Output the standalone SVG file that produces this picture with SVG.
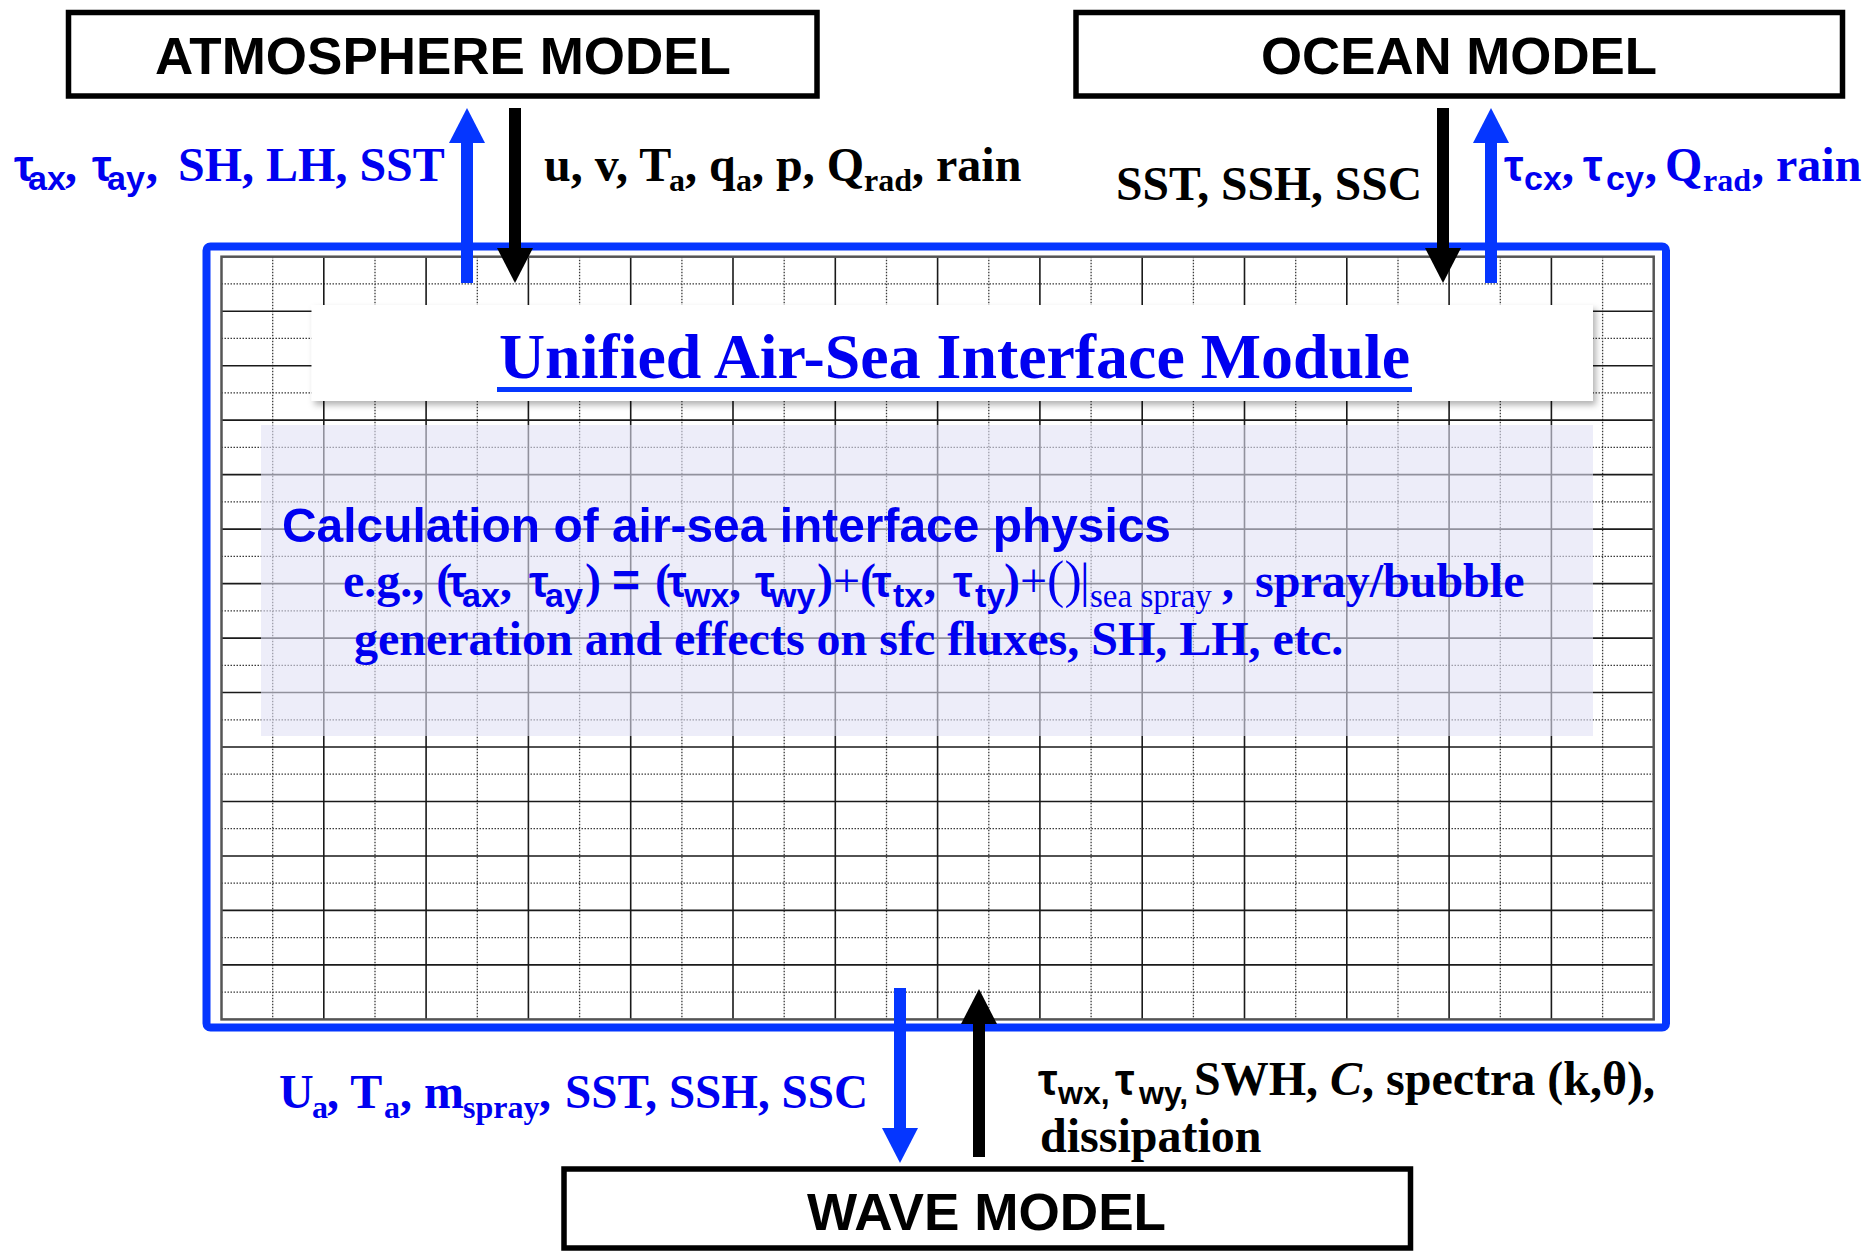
<svg xmlns="http://www.w3.org/2000/svg" width="1864" height="1252" viewBox="0 0 1864 1252">
<defs>
<style>
.box{fill:#fff;stroke:#000;stroke-width:5.5}
.boxtxt{font-family:"Liberation Sans",Arial,sans-serif;font-weight:bold;font-size:52px;fill:#000}
.serif{font-family:"Liberation Serif","Times New Roman",serif;font-weight:bold;font-size:48px}
.blue{fill:#0000f0}
.blk{fill:#000}
.tau{font-family:"Liberation Sans",Arial,sans-serif;font-weight:bold;font-size:44px}
.sub{font-family:"Liberation Sans",Arial,sans-serif;font-weight:bold;font-size:34px}
.sub2{font-family:"Liberation Sans",Arial,sans-serif;font-weight:bold;font-size:32px}
.ssub{font-size:32px}
.reg{font-weight:normal}
.gs{stroke:#1a1a1a;stroke-width:1.6;fill:none}
.gd{stroke:#3a3a3a;stroke-width:1.3;stroke-dasharray:1.5 1.5;fill:none}
.ab{stroke:#0536ff;stroke-width:12;fill:none}
.ak{stroke:#000;stroke-width:12;fill:none}
</style>
<marker id="hb" viewBox="0 0 35 36" markerUnits="userSpaceOnUse" markerWidth="35" markerHeight="36" refX="2" refY="18" orient="auto"><path d="M0,0 L35,18 L0,36 Z" fill="#0536ff"/></marker>
<marker id="hk" viewBox="0 0 35 36" markerUnits="userSpaceOnUse" markerWidth="35" markerHeight="36" refX="2" refY="18" orient="auto"><path d="M0,0 L35,18 L0,36 Z" fill="#000"/></marker>
<filter id="sh" x="-5%" y="-20%" width="110%" height="150%"><feDropShadow dx="3" dy="4" stdDeviation="3" flood-color="#000" flood-opacity="0.3"/></filter>
</defs>
<rect width="1864" height="1252" fill="#fff"/>

<g id="interface-module">
<rect x="206.5" y="246.5" width="1459.5" height="781" rx="4" fill="#fff" stroke="#0536ff" stroke-width="8"/>
<path class="gd" d="M272.7,256.7V1019.4M375,256.7V1019.4M477.3,256.7V1019.4M579.6,256.7V1019.4M681.9,256.7V1019.4M784.2,256.7V1019.4M886.5,256.7V1019.4M988.8,256.7V1019.4M1091.1,256.7V1019.4M1193.4,256.7V1019.4M1295.7,256.7V1019.4M1398,256.7V1019.4M1500.3,256.7V1019.4M1602.6,256.7V1019.4
M221.5,283.9H1653.7M221.5,338.4H1653.7M221.5,392.9H1653.7M221.5,447.4H1653.7M221.5,501.9H1653.7M221.5,556.3H1653.7M221.5,610.8H1653.7M221.5,665.3H1653.7M221.5,719.8H1653.7M221.5,774.2H1653.7M221.5,828.7H1653.7M221.5,883.2H1653.7M221.5,937.7H1653.7M221.5,992.2H1653.7"/>
<path class="gs" d="M323.8,256.7V1019.4M426.1,256.7V1019.4M528.4,256.7V1019.4M630.7,256.7V1019.4M733,256.7V1019.4M835.3,256.7V1019.4M937.6,256.7V1019.4M1039.9,256.7V1019.4M1142.2,256.7V1019.4M1244.5,256.7V1019.4M1346.8,256.7V1019.4M1449.1,256.7V1019.4M1551.4,256.7V1019.4
M221.5,311.2H1653.7M221.5,365.7H1653.7M221.5,420.1H1653.7M221.5,474.6H1653.7M221.5,529.1H1653.7M221.5,583.6H1653.7M221.5,638.1H1653.7M221.5,692.5H1653.7M221.5,747H1653.7M221.5,801.5H1653.7M221.5,856H1653.7M221.5,910.4H1653.7M221.5,964.9H1653.7"/>
<rect x="221.5" y="256.7" width="1432.2" height="762.7" fill="none" stroke="#555" stroke-width="2.5"/>

<rect x="261" y="425" width="1332" height="311" fill="#e1e1f5" fill-opacity="0.6"/>
<rect x="311.5" y="305" width="1281.5" height="96" fill="#fff" filter="url(#sh)"/>
<text class="serif blue" x="499" y="378" textLength="911" lengthAdjust="spacingAndGlyphs" style="font-size:64px">Unified Air-Sea Interface Module</text>
<rect x="497" y="387" width="915" height="5" fill="#0536ff"/>

<text x="282" y="542" fill="#0000f0" font-family="'Liberation Sans', Arial, sans-serif" font-weight="bold" font-size="49" textLength="889" lengthAdjust="spacingAndGlyphs">Calculation of air-sea interface physics</text>

<text class="serif blue" y="597"><tspan x="343">e.g., (</tspan><tspan class="tau" x="447">τ</tspan><tspan class="sub" x="462" dy="10">ax</tspan><tspan x="500" dy="-10">,</tspan><tspan class="tau" x="529">τ</tspan><tspan class="sub" x="545" dy="10">ay</tspan><tspan x="585" dy="-10">)</tspan><tspan class="sub" x="612" style="font-size:48px">=</tspan><tspan x="655">(</tspan><tspan class="tau" x="667">τ</tspan><tspan class="sub" x="684" dy="10">wx</tspan><tspan x="729" dy="-10">,</tspan><tspan class="tau" x="755">τ</tspan><tspan class="sub" x="770" dy="10">wy</tspan><tspan x="817" dy="-10">)</tspan><tspan class="reg">+</tspan><tspan>(</tspan><tspan class="tau" x="872">τ</tspan><tspan class="sub" x="893" dy="10">tx</tspan><tspan x="924" dy="-10">,</tspan><tspan class="tau" x="953">τ</tspan><tspan class="sub" x="975" dy="10">ty</tspan><tspan x="1004" dy="-10">)</tspan><tspan class="reg">+</tspan><tspan class="reg" style="font-size:52px">()</tspan><tspan class="reg" x="1080">|</tspan><tspan class="reg" x="1090" dy="10" style="font-size:33px">sea spray</tspan><tspan x="1222" dy="-10">,</tspan><tspan x="1255">spray/bubble</tspan></text>

<text class="serif blue" x="354" y="655">generation and effects on sfc fluxes, SH, LH, etc.</text>
</g>

<g id="atmosphere-model">
<rect class="box" x="68.5" y="12.5" width="748.5" height="83.5"/>
<text class="boxtxt" x="443" y="74" text-anchor="middle" textLength="576" lengthAdjust="spacingAndGlyphs">ATMOSPHERE MODEL</text>
</g>

<g id="ocean-model">
<rect class="box" x="1076" y="12.5" width="766.5" height="83.5"/>
<text class="boxtxt" x="1459" y="74" text-anchor="middle" textLength="396" lengthAdjust="spacingAndGlyphs">OCEAN MODEL</text>
</g>

<g id="wave-model">
<rect class="box" x="564" y="1169" width="846.5" height="79"/>
<text class="boxtxt" x="986.5" y="1230" text-anchor="middle" textLength="359" lengthAdjust="spacingAndGlyphs">WAVE MODEL</text>
</g>

<g id="connectors">
<path class="ab" d="M467,283V141" marker-end="url(#hb)"/>
<path class="ak" d="M515,108V250" marker-end="url(#hk)"/>
<path class="ak" d="M1443,108V250" marker-end="url(#hk)"/>
<path class="ab" d="M1491,283V141" marker-end="url(#hb)"/>
<path class="ab" d="M900,988V1130" marker-end="url(#hb)"/>
<path class="ak" d="M979,1157V1022" marker-end="url(#hk)"/>
</g>

<g id="labels">
<text class="serif blue" y="181"><tspan class="tau" x="14">τ</tspan><tspan class="sub" x="28" dy="9">ax</tspan><tspan x="65" dy="-9">,</tspan><tspan class="tau" x="92">τ</tspan><tspan class="sub" x="107" dy="9">ay</tspan><tspan x="146" dy="-9">,</tspan><tspan x="178">SH, LH, SST</tspan></text>

<text class="serif blk" y="181"><tspan x="544">u, v, T</tspan><tspan class="ssub" x="669" dy="10">a</tspan><tspan x="685" dy="-10">, q</tspan><tspan class="ssub" x="736" dy="10">a</tspan><tspan x="752" dy="-10">, p, Q</tspan><tspan class="ssub" x="864" dy="10">rad</tspan><tspan x="912" dy="-10">, rain</tspan></text>

<text class="serif blk" x="1116" y="200" textLength="306" lengthAdjust="spacingAndGlyphs">SST, SSH, SSC</text>

<text class="serif blue" y="181"><tspan class="tau" x="1504">τ</tspan><tspan class="sub" x="1524" dy="9">cx</tspan><tspan x="1562" dy="-9">,</tspan><tspan class="tau" x="1583">τ</tspan><tspan class="sub" x="1606" dy="9">cy</tspan><tspan x="1645" dy="-9">,</tspan><tspan x="1665">Q</tspan><tspan class="ssub" x="1703" dy="10">rad</tspan><tspan x="1752" dy="-10">, rain</tspan></text>

<text class="serif blue" y="1108"><tspan x="279">U</tspan><tspan class="ssub" x="312" dy="10">a</tspan><tspan x="327" dy="-10">, T</tspan><tspan class="ssub" x="384" dy="10">a</tspan><tspan x="400" dy="-10">, m</tspan><tspan class="ssub" x="463" dy="10">spray</tspan><tspan x="539" dy="-10">,</tspan><tspan x="565" textLength="303" lengthAdjust="spacingAndGlyphs">SST, SSH, SSC</tspan></text>

<text class="serif blk" y="1095"><tspan class="tau" x="1038">τ</tspan><tspan class="sub2" x="1058" dy="9">wx,</tspan><tspan class="tau" x="1115" dy="-9">τ</tspan><tspan class="sub2" x="1139" dy="9">wy,</tspan><tspan x="1194" dy="-9">SWH, </tspan><tspan font-style="italic">C</tspan><tspan>, spectra (k,θ),</tspan></text>
<text class="serif blk" x="1040" y="1152">dissipation</text>
</g>
</svg>
